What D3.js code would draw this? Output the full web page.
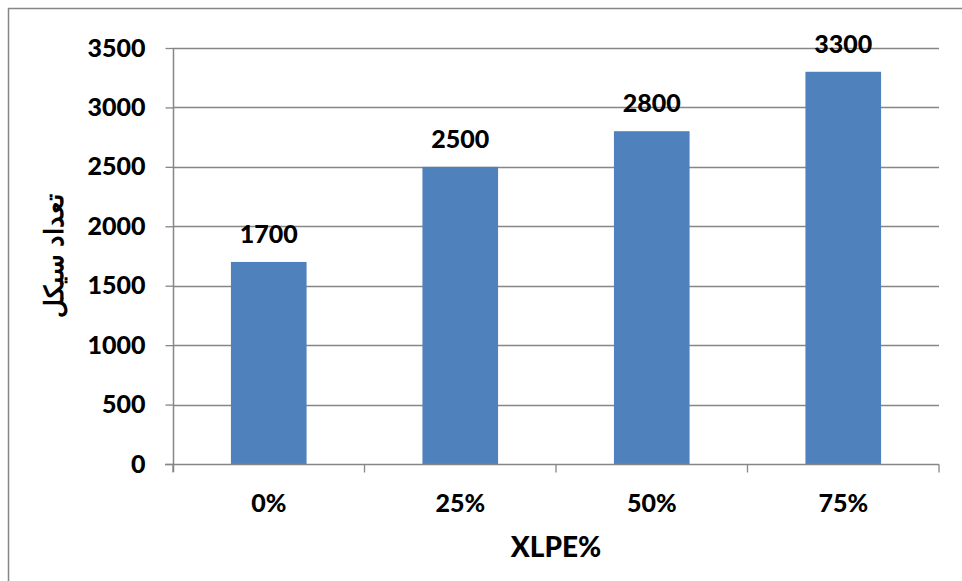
<!DOCTYPE html>
<html>
<head>
<meta charset="utf-8">
<script src="https://cdn.jsdelivr.net/npm/d3@7"></script>
<style>
  html, body { margin: 0; padding: 0; background: #fff; }
  svg { display: block; }
  text { font-family: Lato, "Open Sans", sans-serif; font-weight: 900; fill: #000; }
</style>
</head>
<body>
<svg id="chart" width="962" height="581"></svg>
<script>
// Cycle counts by XLPE content
const categories = ["0%", "25%", "50%", "75%"];
const cycles = [1700, 2500, 2800, 3300];
const yTicks = [0, 500, 1000, 1500, 2000, 2500, 3000, 3500];
const xTitle = "XLPE%";
const yTitle = "تعداد سیکل";

const W = 962, H = 581;
const margin = { left: 173, right: 23, top: 48, bottom: 117 };
const gridColor = "#868686";
const barColor = "#4F81BD";

const svg = d3.select("#chart");

// chart frame
svg.append("rect")
  .attr("x", 8.5).attr("y", 8.5)
  .attr("width", W + 20).attr("height", H + 20)
  .attr("fill", "#fff")
  .attr("stroke", gridColor).attr("stroke-width", 1.5);

const x = d3.scaleBand()
  .domain(categories)
  .range([margin.left, W - margin.right])
  .paddingInner(0.605).paddingOuter(0.3025);

const y = d3.scaleLinear()
  .domain([0, 3500])
  .range([H - margin.bottom, margin.top]);

const rows = categories.map((c, i) => ({ c, v: cycles[i] }));

// horizontal gridlines
svg.append("g")
  .selectAll("line")
  .data(yTicks.filter(d => d > 0))
  .join("line")
  .attr("x1", margin.left).attr("x2", W - margin.right)
  .attr("y1", d => Math.round(y(d)) + 0.5).attr("y2", d => Math.round(y(d)) + 0.5)
  .attr("stroke", gridColor).attr("stroke-width", 1.3);

// bars
svg.append("g")
  .selectAll("rect")
  .data(rows)
  .join("rect")
  .attr("x", d => x(d.c))
  .attr("width", x.bandwidth())
  .attr("y", d => y(d.v))
  .attr("height", d => y(0) - y(d.v))
  .attr("fill", barColor);

// value labels
svg.append("g")
  .selectAll("text")
  .data(rows)
  .join("text")
  .attr("x", d => x(d.c) + x.bandwidth() / 2)
  .attr("y", d => y(d.v) - 19)
  .attr("text-anchor", "middle")
  .attr("font-size", 25)
  .text(d => d.v);

// y axis
const yAxis = svg.append("g")
  .attr("transform", `translate(${margin.left + 0.5},0)`)
  .call(d3.axisLeft(y).tickValues(yTicks).tickSize(8).tickPadding(20).tickFormat(d3.format("d")));
yAxis.select(".domain").attr("stroke", gridColor).attr("stroke-width", 1.5)
  .attr("d", `M0,${margin.top}V${H - margin.bottom + 8}`);
yAxis.selectAll(".tick line").attr("stroke", gridColor).attr("stroke-width", 1.3);
yAxis.selectAll(".tick text")
  .attr("font-size", 25).attr("font-family", "Lato, sans-serif").attr("font-weight", 900)
  .attr("fill", "#000");

// x axis (ticks between categories)
const xAxisG = svg.append("g")
  .attr("transform", `translate(0,${Math.round(y(0)) + 0.5})`);
xAxisG.append("line")
  .attr("x1", margin.left - 8).attr("x2", W - margin.right)
  .attr("stroke", gridColor).attr("stroke-width", 1.5);
const step = x.step();
const boundaries = d3.range(categories.length + 1).map(i => margin.left + i * step);
xAxisG.selectAll("line.tk")
  .data(boundaries)
  .join("line").attr("class", "tk")
  .attr("x1", d => d).attr("x2", d => d)
  .attr("y1", 0).attr("y2", 8)
  .attr("stroke", gridColor).attr("stroke-width", 1.3);
xAxisG.selectAll("text")
  .data(categories)
  .join("text")
  .attr("x", d => x(d) + x.bandwidth() / 2)
  .attr("y", 47)
  .attr("text-anchor", "middle")
  .attr("font-size", 25)
  .text(d => d);

// axis titles
svg.append("text")
  .attr("x", (margin.left + W - margin.right) / 2)
  .attr("y", 557)
  .attr("text-anchor", "middle")
  .attr("font-size", 28)
  .text(xTitle);

svg.append("text")
  .attr("transform", `translate(63,${(y(0) + y(3500)) / 2}) rotate(-90)`)
  .attr("text-anchor", "middle")
  .attr("font-family", "'DejaVu Sans', sans-serif")
  .attr("font-weight", "bold")
  .attr("font-size", 26)
  .attr("direction", "rtl")
  .text(yTitle);
</script>
</body>
</html>
